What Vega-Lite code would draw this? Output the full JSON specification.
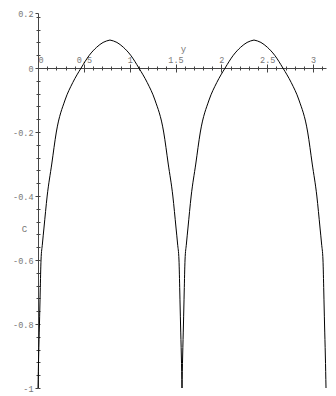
{
  "$schema": "https://vega.github.io/schema/vega-lite/v6.json",
  "width": 288,
  "height": 375,
  "autosize": {"type": "none"},
  "padding": {"left": 38, "top": 13, "right": 10, "bottom": 8},
  "config": {"view": {"stroke": null}},
  "data": {"values": [
    {"seg": "a", "y": 0, "C": -1}, {"seg": "a", "y": 0.007, "C": -0.9}, {"seg": "a", "y": 0.016, "C": -0.8}, {"seg": "a", "y": 0.024, "C": -0.7}, {"seg": "a", "y": 0.033, "C": -0.6}, {"seg": "a", "y": 0.048, "C": -0.55}, {"seg": "a", "y": 0.065, "C": -0.5}, {"seg": "a", "y": 0.1, "C": -0.4}, {"seg": "a", "y": 0.15, "C": -0.3}, {"seg": "a", "y": 0.2, "C": -0.2}, {"seg": "a", "y": 0.295, "C": -0.1}, {"seg": "a", "y": 0.38, "C": -0.045}, {"seg": "a", "y": 0.47, "C": 0}, {"seg": "a", "y": 0.56, "C": 0.04}, {"seg": "a", "y": 0.64, "C": 0.065}, {"seg": "a", "y": 0.71, "C": 0.08}, {"seg": "a", "y": 0.785, "C": 0.0875},
    {"seg": "b", "y": 0.785, "C": 0.0875}, {"seg": "b", "y": 0.8608, "C": 0.08}, {"seg": "b", "y": 0.9308, "C": 0.065}, {"seg": "b", "y": 1.0108, "C": 0.04}, {"seg": "b", "y": 1.1008, "C": 0}, {"seg": "b", "y": 1.1908, "C": -0.045}, {"seg": "b", "y": 1.2758, "C": -0.1}, {"seg": "b", "y": 1.3708, "C": -0.2}, {"seg": "b", "y": 1.4208, "C": -0.3}, {"seg": "b", "y": 1.4708, "C": -0.4}, {"seg": "b", "y": 1.5058, "C": -0.5}, {"seg": "b", "y": 1.5228, "C": -0.55}, {"seg": "b", "y": 1.5378, "C": -0.6}, {"seg": "b", "y": 1.5468, "C": -0.7}, {"seg": "b", "y": 1.5548, "C": -0.8}, {"seg": "b", "y": 1.5638, "C": -0.9}, {"seg": "b", "y": 1.5708, "C": -1},
    {"seg": "c", "y": 1.5708, "C": -1}, {"seg": "c", "y": 1.5778, "C": -0.9}, {"seg": "c", "y": 1.5868, "C": -0.8}, {"seg": "c", "y": 1.5948, "C": -0.7}, {"seg": "c", "y": 1.6038, "C": -0.6}, {"seg": "c", "y": 1.6188, "C": -0.55}, {"seg": "c", "y": 1.6358, "C": -0.5}, {"seg": "c", "y": 1.6708, "C": -0.4}, {"seg": "c", "y": 1.7208, "C": -0.3}, {"seg": "c", "y": 1.7708, "C": -0.2}, {"seg": "c", "y": 1.8658, "C": -0.1}, {"seg": "c", "y": 1.9508, "C": -0.045}, {"seg": "c", "y": 2.0408, "C": 0}, {"seg": "c", "y": 2.1308, "C": 0.04}, {"seg": "c", "y": 2.2108, "C": 0.065}, {"seg": "c", "y": 2.2808, "C": 0.08}, {"seg": "c", "y": 2.3562, "C": 0.0875},
    {"seg": "d", "y": 2.3562, "C": 0.0875}, {"seg": "d", "y": 2.4316, "C": 0.08}, {"seg": "d", "y": 2.5016, "C": 0.065}, {"seg": "d", "y": 2.5816, "C": 0.04}, {"seg": "d", "y": 2.6716, "C": 0}, {"seg": "d", "y": 2.7616, "C": -0.045}, {"seg": "d", "y": 2.8466, "C": -0.1}, {"seg": "d", "y": 2.9416, "C": -0.2}, {"seg": "d", "y": 2.9916, "C": -0.3}, {"seg": "d", "y": 3.0416, "C": -0.4}, {"seg": "d", "y": 3.0766, "C": -0.5}, {"seg": "d", "y": 3.0936, "C": -0.55}, {"seg": "d", "y": 3.1086, "C": -0.6}, {"seg": "d", "y": 3.1176, "C": -0.7}, {"seg": "d", "y": 3.1256, "C": -0.8}, {"seg": "d", "y": 3.1346, "C": -0.9}, {"seg": "d", "y": 3.1416, "C": -1}
  ]},
  "resolve": {"axis": {"x": "independent", "y": "independent"}},
  "layer": [
    {
      "mark": {"type": "line", "color": "#000000", "strokeWidth": 1, "interpolate": "monotone"},
      "encoding": {
        "detail": {"field": "seg", "type": "nominal"},
        "x": {
          "field": "y", "type": "quantitative",
          "scale": {"domain": [0, 3.1416], "nice": false, "zero": false},
          "axis": {
            "orient": "top", "offset": -55,
            "values": [0, 0.1, 0.2, 0.3, 0.4, 0.5, 0.6, 0.7, 0.8, 0.9, 1, 1.1, 1.2, 1.3, 1.4, 1.5, 1.6, 1.7, 1.8, 1.9, 2, 2.1, 2.2, 2.3, 2.4, 2.5, 2.6, 2.7, 2.8, 2.9, 3, 3.1],
            "tickSize": {"condition": {"test": "abs(datum.value*2-round(datum.value*2))<1e-6", "value": 4}, "value": 2},
            "labelExpr": "abs(datum.value*2-round(datum.value*2))<1e-6 ? datum.value+'' : ''",
            "labelAlign": {"condition": {"test": "datum.value == 0", "value": "left"}, "value": "center"},
            "labelOverlap": false, "labelFlush": false, "labelBound": false,
            "labelPadding": 0,
            "labelFont": "Liberation Mono", "labelFontSize": 8.5, "labelColor": "#777777",
            "tickColor": "#444444", "domainColor": "#444444", "grid": false,
            "title": "y", "titleFont": "Liberation Mono", "titleFontSize": 9, "titleFontWeight": "normal", "titleColor": "#777777",
            "titleX": 145, "titleY": -17, "titleBaseline": "alphabetic", "titleAlign": "center"
          }
        },
        "y": {
          "field": "C", "type": "quantitative",
          "scale": {"domain": [-1, 0.172], "nice": false, "zero": false},
          "axis": {
            "orient": "left", "offset": 0,
            "values": [-1, -0.96, -0.92, -0.88, -0.84, -0.8, -0.76, -0.72, -0.68, -0.64, -0.6, -0.56, -0.52, -0.48, -0.44, -0.4, -0.36, -0.32, -0.28, -0.24, -0.2, -0.16, -0.12, -0.08, -0.04, 0, 0.04, 0.08, 0.12, 0.16, 0.172],
            "tickSize": {"condition": {"test": "abs(datum.value*5-round(datum.value*5))<1e-6 || datum.value > 0.165", "value": 3}, "value": 2},
            "labelExpr": "datum.value > 0.165 ? '0.2' : (abs(datum.value*5-round(datum.value*5))<1e-6 ? datum.value+'' : '')",
            "labelOverlap": false, "labelFlush": false, "labelBound": false,
            "labelPadding": 2,
            "labelFont": "Liberation Mono", "labelFontSize": 8.5, "labelColor": "#777777",
            "tickColor": "#444444", "domainColor": "#444444", "grid": false,
            "title": "C", "titleFont": "Liberation Mono", "titleFontSize": 9, "titleFontWeight": "normal", "titleColor": "#777777",
            "titleAngle": 0, "titleX": -14, "titleY": 215, "titleBaseline": "middle", "titleAlign": "center"
          }
        }
      }
    },
    {
      "mark": {"type": "line", "strokeOpacity": 0},
      "encoding": {
        "detail": {"field": "seg", "type": "nominal"},
        "x": {
          "field": "y", "type": "quantitative",
          "axis": {
            "orient": "bottom", "offset": -320,
            "values": [0, 0.1, 0.2, 0.3, 0.4, 0.5, 0.6, 0.7, 0.8, 0.9, 1, 1.1, 1.2, 1.3, 1.4, 1.5, 1.6, 1.7, 1.8, 1.9, 2, 2.1, 2.2, 2.3, 2.4, 2.5, 2.6, 2.7, 2.8, 2.9, 3, 3.1],
            "tickSize": {"condition": {"test": "abs(datum.value*2-round(datum.value*2))<1e-6", "value": 4}, "value": 2},
            "labels": false, "domain": false, "grid": false, "title": null,
            "tickColor": "#444444"
          }
        },
        "y": {
          "field": "C", "type": "quantitative",
          "axis": {
            "orient": "right", "offset": -288,
            "values": [-1, -0.96, -0.92, -0.88, -0.84, -0.8, -0.76, -0.72, -0.68, -0.64, -0.6, -0.56, -0.52, -0.48, -0.44, -0.4, -0.36, -0.32, -0.28, -0.24, -0.2, -0.16, -0.12, -0.08, -0.04, 0, 0.04, 0.08, 0.12, 0.16],
            "tickSize": 2,
            "labels": false, "domain": false, "grid": false, "title": null,
            "tickColor": "#444444"
          }
        }
      }
    }
  ]
}
